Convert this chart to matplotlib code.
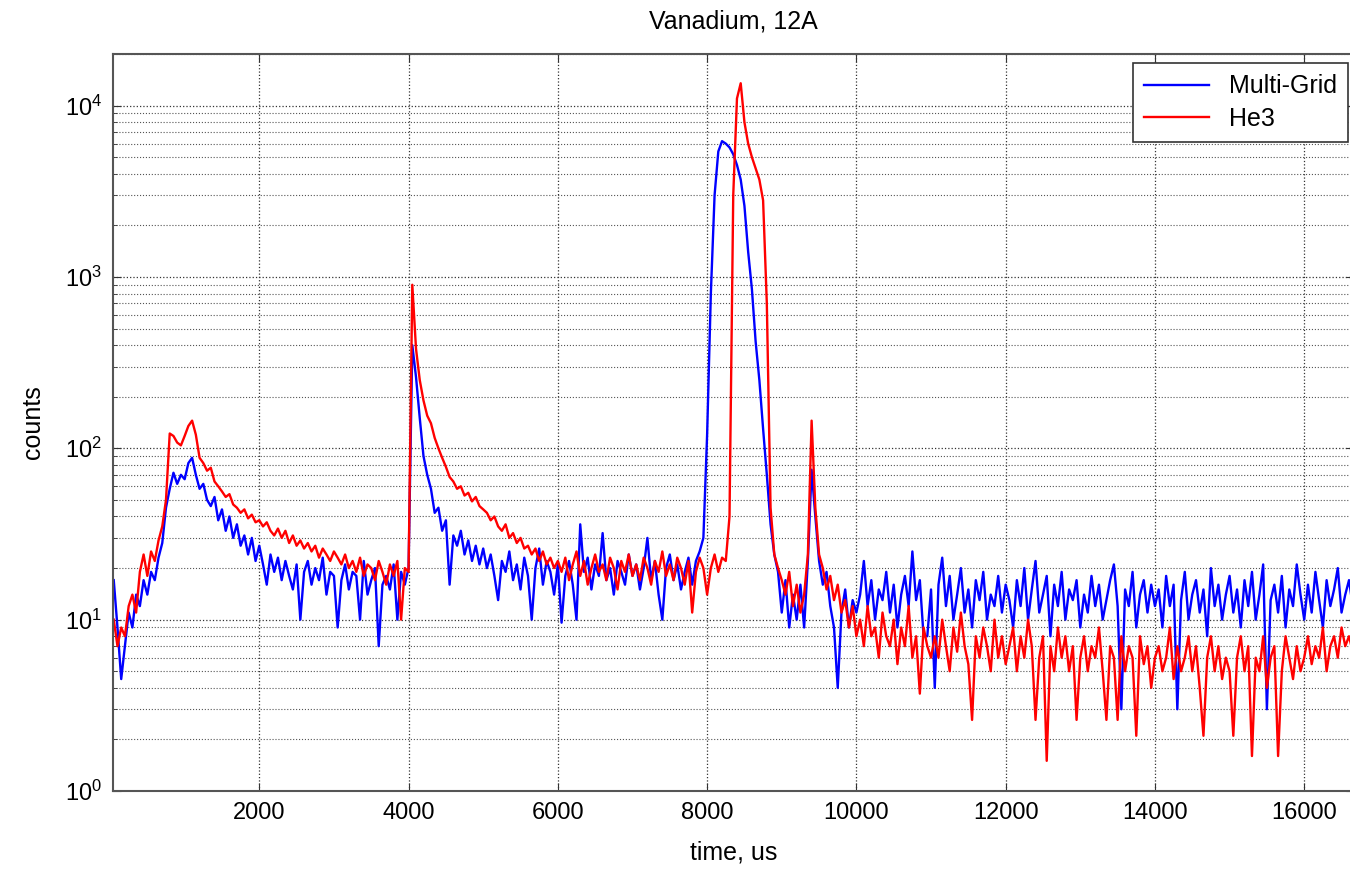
import matplotlib.pyplot as plt
import numpy as np

plt.rcParams['font.family'] = ['Liberation Sans', 'DejaVu Sans']
plt.rcParams['mathtext.fontset'] = 'custom'
plt.rcParams['mathtext.rm'] = 'Liberation Sans'
plt.rcParams['mathtext.it'] = 'Liberation Sans'

# time bins, us (50 us wide)
time_us = np.arange(50, 16700, 50)

# Multi-Grid counts per bin, one row per 1000 us
multigrid = [
    17, 9, 4.5, 7, 11, 9, 14, 12, 17, 14, 19, 17, 23, 28, 45, 58, 72, 62, 70, 66,
    82, 88, 70, 58, 62, 50, 46, 52, 38, 44, 33, 40, 30, 36, 27, 31, 24, 30, 22, 27,
    21, 16, 24, 19, 23, 17, 22, 18, 15, 21, 10, 19, 22, 16, 20, 17, 23, 14, 19, 18,
    9, 17, 21, 15, 19, 18, 10, 22, 14, 17, 20, 7, 16, 18, 15, 21, 10, 19, 16, 20,
    400, 260, 150, 90, 70, 58, 42, 45, 33, 38, 16, 31, 27, 33, 24, 29, 22, 27, 21, 26,
    20, 24, 18, 13, 22, 19, 25, 17, 21, 15, 23, 18, 10, 20, 26, 16, 22, 19, 14, 21,
    9.6, 18, 22, 16, 10, 36, 19, 23, 15, 21, 18, 32, 17, 20, 14, 22, 19, 16, 24, 18,
    21, 15, 20, 30, 17, 22, 14, 10, 20, 24, 17, 21, 15, 19, 23, 16, 22, 25, 30, 120,
    800, 3000, 5400, 6200, 6000, 5700, 5200, 4500, 3700, 2600, 1400, 850, 420, 250, 130, 70, 36, 24, 19, 11,
    17, 9, 14, 10, 16, 9, 22, 75, 40, 22, 16, 19, 12, 9, 4, 11, 15, 9, 13, 11,
    14, 22, 12, 17, 10, 15, 13, 19, 11, 16, 9, 14, 18, 12, 25, 13, 17, 8, 8, 15,
    4, 16, 23, 12, 18, 10, 14, 20, 11, 15, 9, 17, 13, 19, 10, 14, 12, 18, 11, 16,
    13, 9, 17, 12, 20, 10, 15, 22, 11, 14, 18, 8, 16, 12, 19, 10, 15, 13, 17, 9,
    14, 11, 18, 12, 16, 10, 13, 17, 21, 12, 3, 15, 12, 19, 9, 14, 17, 11, 16, 12,
    15, 9, 18, 12, 16, 3, 13, 19, 10, 14, 17, 11, 15, 8, 20, 12, 16, 10, 14, 18,
    11, 15, 9, 17, 12, 19, 10, 14, 21, 3, 13, 16, 11, 18, 9, 15, 12, 21, 14, 10,
    16, 11, 19, 13, 9, 17, 12, 15, 20, 11, 14, 17, 12,
]

# He3 counts per bin
he3 = [
    10, 7, 9, 8, 12, 14, 11, 19, 24, 18, 25, 22, 29, 35, 50, 122, 118, 108, 104, 118,
    135, 145, 120, 88, 82, 74, 77, 64, 60, 56, 52, 54, 47, 45, 42, 44, 39, 41, 37, 38,
    35, 37, 33, 31, 34, 30, 33, 28, 31, 27, 29, 26, 28, 25, 27, 23, 26, 24, 22, 25,
    23, 21, 24, 20, 22, 19, 23, 18, 21, 20, 17, 22, 19, 16, 21, 18, 22, 10, 20, 19,
    900, 380, 250, 190, 155, 140, 115, 100, 88, 78, 68, 64, 58, 60, 53, 55, 49, 52, 46, 44,
    42, 38, 40, 35, 33, 36, 30, 32, 28, 30, 26, 27, 24, 26, 22, 25, 21, 23, 20, 22,
    19, 23, 17, 21, 25, 18, 22, 16, 20, 24, 19, 21, 17, 23, 20, 15, 22, 19, 24, 18,
    21, 17, 23, 20, 16, 22, 19, 25, 18, 21, 17, 23, 20, 16, 22, 11, 19, 23, 20, 14,
    20, 24, 19, 23, 22, 40, 3000, 11000, 13500, 8000, 6000, 5000, 4300, 3700, 2800, 700, 45, 24, 20, 17,
    14, 19, 12, 16, 11, 14, 24, 145, 45, 24, 20, 15, 18, 13, 16, 11, 13, 9, 12, 8,
    10, 7, 12, 8, 9, 6, 11, 8, 7, 10, 5.5, 9, 7, 12, 6, 8, 3.7, 9, 7, 6,
    8, 6, 10, 7, 5, 9, 6.5, 11, 7, 5.5, 2.6, 8, 6, 9, 7, 5, 10, 6, 8, 5.5,
    7, 9, 5, 8, 6, 10, 7, 2.6, 6, 8, 1.5, 7, 5, 9, 6, 8, 5, 7, 2.6, 6,
    8, 5, 7, 6, 9, 5, 2.6, 7, 6, 2.6, 8, 5, 7, 6, 2.1, 8, 5.5, 7, 4, 6,
    7, 5, 6, 9, 4.5, 7, 5, 6, 8, 5, 7, 4, 2.1, 6, 8, 5, 7, 4.5, 6, 5,
    2.1, 6, 8, 5, 7, 1.6, 6, 5, 8, 4, 6, 7, 1.6, 5, 8, 6, 4.5, 7, 5, 6,
    8, 5.5, 7, 6, 9, 5, 7, 8, 6, 9, 7, 8, 6.5,
]

fig = plt.figure(figsize=(13.5, 8.69), dpi=100)
# right edge of the axes runs just past the picture, as in the original
ax = fig.add_axes([113 / 1350, 1 - 791 / 869, (1354 - 113) / 1350, (791 - 54) / 869])

ax.semilogy(time_us, multigrid, color='#0000ff', lw=1.7, label='Multi-Grid')
ax.semilogy(time_us, he3, color='#ff0000', lw=1.7, label='He3')

ax.set_xlim(40, 16667)
ax.set_ylim(1, 2e4)
ax.set_xticks(np.arange(2000, 16001, 2000))

ax.grid(True, which='major', ls=':', color='#333333', lw=0.9)
ax.grid(True, which='minor', axis='y', ls=':', color='#555555', lw=0.8)
ax.tick_params(which='both', direction='in', top=True, right=True, labelsize=17,
               color='#333333')
ax.tick_params(which='major', length=6, pad=8)
ax.tick_params(which='minor', length=3)
ax.tick_params(axis='x', which='minor', bottom=False, top=False)
for s in ax.spines.values():
    s.set_color('#555555')
    s.set_linewidth(1.5)

ax.set_title('Vanadium, 12A', fontsize=18, pad=18)
ax.set_xlabel('time, us', fontsize=18, labelpad=12)
ax.set_ylabel('counts', fontsize=18, labelpad=14)

leg = ax.legend(loc='upper right', bbox_to_anchor=(1348 / 1350, 1 - 63 / 869),
                bbox_transform=fig.transFigure, borderaxespad=0, fontsize=18,
                fancybox=False, framealpha=1, edgecolor='#333333',
                handlelength=2.6, borderpad=0.45, labelspacing=0.35)
leg.get_frame().set_linewidth(1.2)

fig.savefig('out.png', dpi=100)
